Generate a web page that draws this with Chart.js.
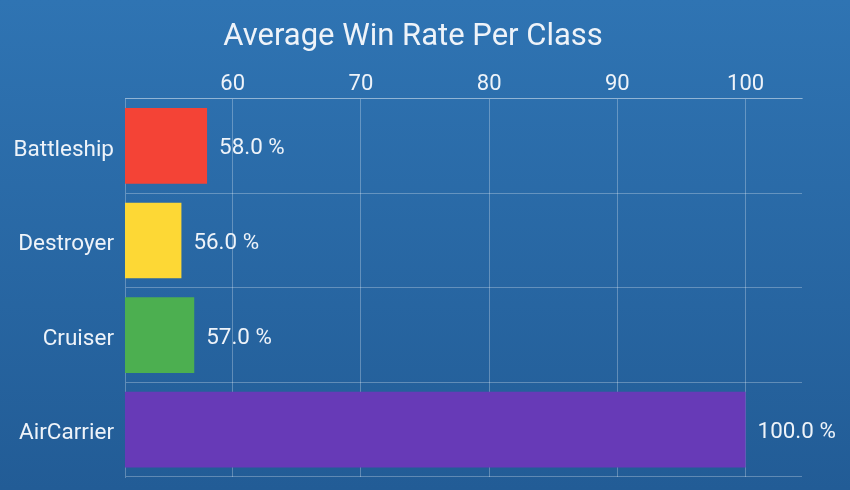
<!DOCTYPE html>
<html>
<head>
<meta charset="utf-8">
<script src="https://cdn.jsdelivr.net/npm/chart.js@4"></script>
<style>
html,body{margin:0;padding:0;}
body{width:850px;height:490px;background:linear-gradient(180deg,#2f74b3 0%,#225c96 100%);overflow:hidden;}
#wrap{width:850px;height:490px;position:relative;}
</style>
</head>
<body>
<div id="wrap"><canvas id="c" width="850" height="490"></canvas></div>
<script>
const categories = ["Battleship", "Destroyer", "Cruiser", "AirCarrier"];
const winRates = [58.0, 56.0, 57.0, 100.0];
const barColors = ["#f44336", "#fdd835", "#4caf50", "#673ab7"];
const xTicks = [60, 70, 80, 90, 100];
const chartTitle = "Average Win Rate Per Class";

const textColor = "#eef3f9";
const gridColor = "rgba(255,255,255,0.28)";

const valueLabels = {
  id: "valueLabels",
  afterDatasetsDraw(chart) {
    const ctx = chart.ctx;
    const meta = chart.getDatasetMeta(0);
    ctx.save();
    ctx.font = "22.4px Roboto";
    ctx.fillStyle = textColor;
    ctx.textAlign = "left";
    ctx.textBaseline = "middle";
    meta.data.forEach((bar, i) => {
      ctx.fillText(winRates[i].toFixed(1) + " %", bar.x + 12, bar.y + 3);
    });
    ctx.restore();
  }
};

const titleText = {
  id: "titleText",
  afterDraw(chart) {
    const ctx = chart.ctx;
    ctx.save();
    ctx.font = "31px Roboto";
    ctx.fillStyle = textColor;
    ctx.textAlign = "center";
    ctx.textBaseline = "middle";
    ctx.fillText(chartTitle, chart.width / 2 - 12, 37.6);
    ctx.restore();
  }
};

new Chart(document.getElementById("c"), {
  type: "bar",
  data: {
    labels: categories,
    datasets: [{
      data: winRates,
      backgroundColor: barColors,
      borderWidth: 0,
      barPercentage: 0.8,
      categoryPercentage: 1.0
    }]
  },
  options: {
    indexAxis: "y",
    responsive: false,
    animation: false,
    layout: { padding: { left: 4, right: 48, top: 70.2, bottom: 13 } },
    plugins: {
      legend: { display: false },
      tooltip: { enabled: false },
      title: { display: false }
    },
    scales: {
      x: {
        position: "top",
        min: 51.6,
        max: 104.4,
        afterBuildTicks(scale) {
          scale.ticks = xTicks.map(v => ({ value: v }));
        },
        grid: { color: gridColor, drawTicks: false, lineWidth: 1 },
        border: { display: true, color: gridColor },
        ticks: {
          color: textColor,
          font: { family: "Roboto", size: 22 },
          padding: 1,
          maxRotation: 0
        }
      },
      y: {
        afterFit(scale) { scale.width = 121; },
        grid: { color: gridColor, drawTicks: false, offset: true },
        border: { display: true, color: gridColor },
        ticks: {
          color: textColor,
          font: { family: "Roboto", size: 22.5, lineHeight: 0.05 },
          padding: 11,
          labelOffset: 4
        }
      }
    }
  },
  plugins: [valueLabels, titleText]
});
</script>
</body>
</html>
